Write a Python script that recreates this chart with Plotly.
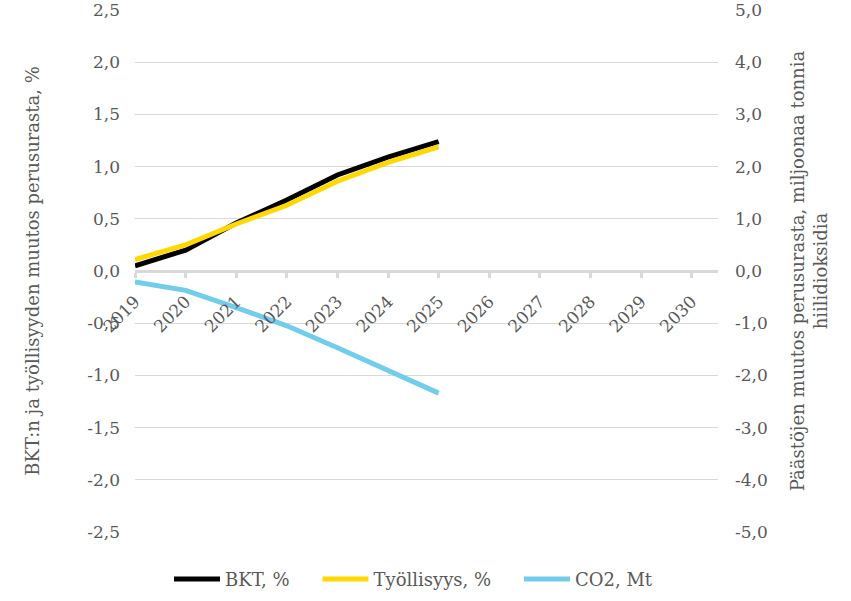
import plotly.graph_objects as go

years = ["2019", "2020", "2021", "2022", "2023", "2024", "2025",
         "2026", "2027", "2028", "2029", "2030"]
bkt = [0.05, 0.20, 0.46, 0.68, 0.92, 1.09, 1.24]
tyollisyys = [0.11, 0.25, 0.45, 0.63, 0.86, 1.04, 1.19]
co2 = [-0.21, -0.37, -0.70, -1.05, -1.47, -1.90, -2.34]

left_ticks = [-2.5, -2.0, -1.5, -1.0, -0.5, 0.0, 0.5, 1.0, 1.5, 2.0, 2.5]
right_ticks = [-5, -4, -3, -2, -1, 0, 1, 2, 3, 4, 5]
left_labels = [f"{v:.1f}".replace(".", ",") for v in left_ticks]
right_labels = [f"{v:.1f}".replace(".", ",") for v in right_ticks]

FONT = "DejaVu Serif"
tick_font = dict(family=FONT, size=17, color="#595959")
title_font = dict(family=FONT, size=18, color="#595959")
NB = "\u00a0"

fig = go.Figure()
fig.add_trace(go.Scatter(x=years[:len(bkt)], y=bkt, name="BKT, %" + NB * 4, mode="lines",
                         line=dict(color="#000000", width=5)))
fig.add_trace(go.Scatter(x=years[:len(tyollisyys)], y=tyollisyys, name="Työllisyys, %" + NB * 4,
                         mode="lines", line=dict(color="#FFD800", width=5)))
fig.add_trace(go.Scatter(x=years[:len(co2)], y=co2, name="CO2, Mt", mode="lines",
                         line=dict(color="#72CDEA", width=5), yaxis="y2"))

fig.update_layout(
    width=851, height=601,
    margin=dict(l=135, r=133, t=10, b=69, autoexpand=False),
    plot_bgcolor="white", paper_bgcolor="white",
    showlegend=True,
    legend=dict(orientation="h", x=0.5 - 13 / 583, xanchor="center", y=-0.055, yanchor="top",
                font=dict(family=FONT, size=18, color="#595959"),
                itemwidth=46, traceorder="normal"),
    xaxis=dict(type="category", categoryarray=years, categoryorder="array",
               range=[0, 11.52], anchor="free", position=0.5, automargin=False,
               showgrid=False, showline=True, linecolor="#d9d9d9", linewidth=3,
               ticks="outside", ticklen=5, tickwidth=3, tickcolor="#d9d9d9",
               tickangle=-45, tickfont=tick_font, zeroline=False, ticklabelstandoff=7),
    yaxis=dict(range=[-2.5, 2.5], tickvals=left_ticks, ticktext=left_labels, automargin=False,
               showgrid=True, gridcolor="#d9d9d9", gridwidth=1, zeroline=False,
               showline=False, ticks="", tickfont=tick_font, ticklabelstandoff=14,
               ticklabeloverflow="allow",
               title=dict(text="BKT:n ja työllisyyden muutos perusurasta, %",
                          font=title_font, standoff=42)),
    yaxis2=dict(range=[-5, 5], tickvals=right_ticks, ticktext=right_labels, automargin=False,
                overlaying="y", side="right", showgrid=False, zeroline=False,
                showline=False, ticks="", tickfont=tick_font, ticklabelstandoff=16,
                ticklabeloverflow="allow",
                title=dict(text="Päästöjen muutos perusurasta, miljoonaa tonnia<br>hiilidioksidia",
                           font=title_font, standoff=24)),
)

fig.write_html("out.html", config={"displayModeBar": False},
               post_script="document.body.style.margin='0';")
